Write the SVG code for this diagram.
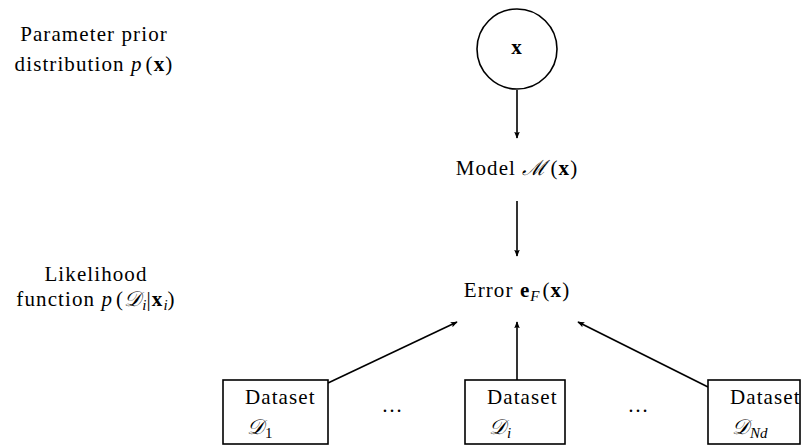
<svg xmlns="http://www.w3.org/2000/svg" width="802" height="447" viewBox="0 0 802 447">
  <style>
    text { font-family: "Liberation Serif", "DejaVu Serif", serif; font-size: 21px; letter-spacing: 1.1px; fill: #000; }
    .c { text-anchor: middle; }
    .b { font-weight: bold; }
    .i { font-style: italic; }
    .sub { font-size: 15px; letter-spacing: 0; }
    .dots { letter-spacing: 0; }
    .node { fill: #fff; stroke: #000; stroke-width: 1.6; }
    .edge { stroke: #000; stroke-width: 1.6; fill: none; marker-end: url(#arrow); }
  </style>
  <defs>
    <marker id="arrow" viewBox="0 0 10 10" refX="9" refY="5" markerWidth="7" markerHeight="7" orient="auto" markerUnits="userSpaceOnUse">
      <path d="M0,1 L10,5 L0,9 L2,5 Z" fill="#000"/>
    </marker>
  </defs>

  <!-- side annotations -->
  <g id="label-prior">
    <text class="c" x="94" y="41">Parameter prior</text>
    <text class="c" x="94" y="71">distribution <tspan class="i">p</tspan><tspan dx="3">(</tspan><tspan class="b">x</tspan>)</text>
  </g>
  <g id="label-likelihood">
    <text class="c" x="96" y="281">Likelihood</text>
    <text class="c" x="96" y="306">function <tspan class="i">p</tspan><tspan dx="3">(</tspan><tspan class="i">𝒟</tspan><tspan class="i sub" dy="4">i</tspan><tspan dy="-4">|</tspan><tspan class="b">x</tspan><tspan class="i sub" dy="4">i</tspan><tspan dy="-4">)</tspan></text>
  </g>

  <!-- connectors -->
  <g id="connectors">
    <line class="edge" x1="517" y1="90" x2="517" y2="138"/>
    <line class="edge" x1="517" y1="201" x2="517" y2="256"/>
    <line class="edge" x1="328" y1="383" x2="457" y2="322"/>
    <line class="edge" x1="517" y1="380" x2="517" y2="322"/>
    <line class="edge" x1="708" y1="387" x2="578" y2="322"/>
  </g>

  <g id="node-x">
    <circle class="node" cx="517" cy="49" r="40"/>
    <text class="c b" x="517" y="54">x</text>
  </g>

  <g id="node-model">
    <text class="c" x="517" y="175">Model <tspan class="i">ℳ</tspan><tspan dx="3">(</tspan><tspan class="b">x</tspan>)</text>
  </g>

  <g id="node-error">
    <text class="c" x="517" y="297">Error <tspan class="b">e</tspan><tspan class="i sub" dy="4">F</tspan><tspan dy="-4" dx="3">(</tspan><tspan class="b">x</tspan>)</text>
  </g>

  <g id="node-d1">
    <rect class="node" x="223" y="380" width="105" height="64"/>
    <text x="245" y="404">Dataset</text>
    <text x="247" y="434" class="i">𝒟<tspan class="sub" font-style="normal" dy="4">1</tspan></text>
  </g>

  <g id="dots-1">
    <text class="c dots" x="392" y="412">…</text>
  </g>

  <g id="node-di">
    <rect class="node" x="465" y="380" width="100" height="64"/>
    <text x="487" y="404">Dataset</text>
    <text x="489" y="434" class="i">𝒟<tspan class="sub" dy="4">i</tspan></text>
  </g>

  <g id="dots-2">
    <text class="c dots" x="638" y="412">…</text>
  </g>

  <g id="node-dn">
    <rect class="node" x="708" y="380" width="92" height="64"/>
    <text x="730" y="404">Dataset</text>
    <text x="732" y="434" class="i">𝒟<tspan class="sub" dy="4">Nd</tspan></text>
  </g>
</svg>
